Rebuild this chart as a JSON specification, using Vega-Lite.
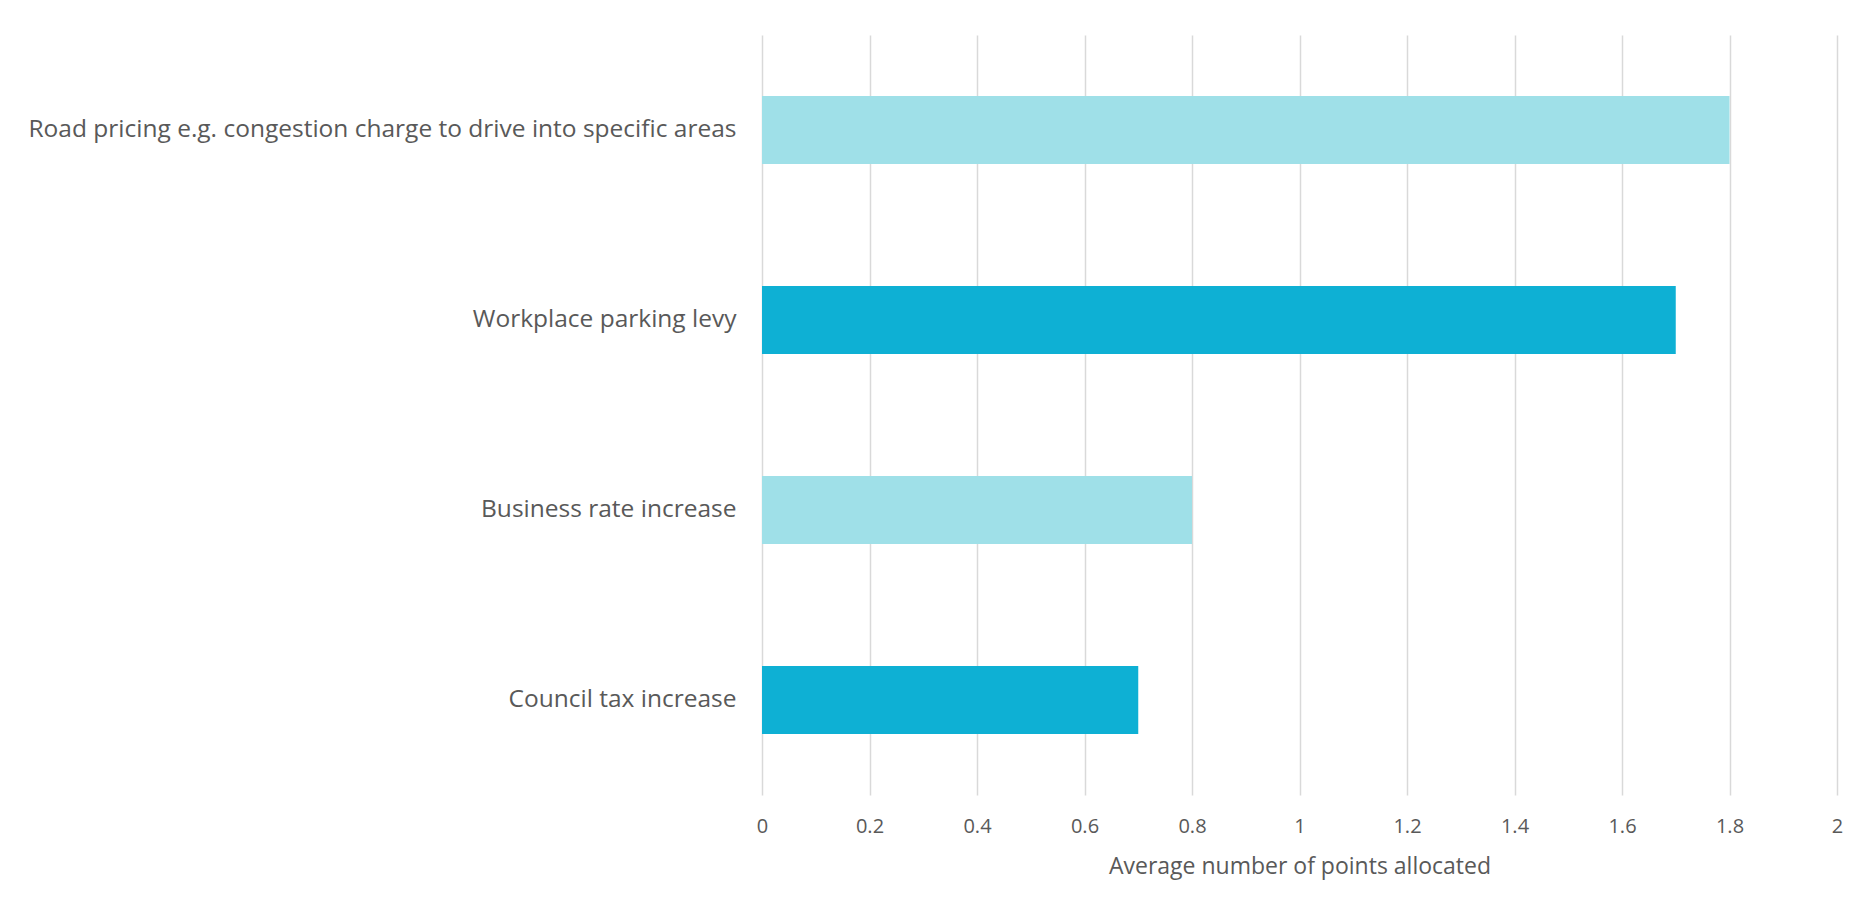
{
  "$schema": "https://vega.github.io/schema/vega-lite/v6.json",
  "autosize": {"type": "none"},
  "width": 1075,
  "height": 760,
  "padding": {"left": 762, "top": 35, "right": 33, "bottom": 113},
  "background": "white",
  "config": {
    "view": {"stroke": null},
    "font": "Open Sans"
  },
  "data": {
    "values": [
      {"measure": "Road pricing e.g. congestion charge to drive into specific areas", "points": 1.8},
      {"measure": "Workplace parking levy", "points": 1.7},
      {"measure": "Business rate increase", "points": 0.8},
      {"measure": "Council tax increase", "points": 0.7}
    ]
  },
  "mark": {"type": "bar"},
  "encoding": {
    "y": {
      "field": "measure",
      "type": "nominal",
      "sort": null,
      "scale": {"paddingInner": 0.642, "paddingOuter": 0.321},
      "axis": {
        "title": null,
        "domain": false,
        "ticks": false,
        "grid": false,
        "labelLimit": 0,
        "labelPadding": 26,
        "labelFontSize": 24.5,
        "labelColor": "#595959",
        "labelFont": "Open Sans"
      }
    },
    "x": {
      "field": "points",
      "type": "quantitative",
      "scale": {"domain": [0, 2], "nice": false},
      "axis": {
        "title": "Average number of points allocated",
        "values": [0, 0.2, 0.4, 0.6, 0.8, 1, 1.2, 1.4, 1.6, 1.8, 2],
        "labelExpr": "datum.value",
        "labelFlush": false,
        "domain": false,
        "ticks": false,
        "grid": true,
        "gridColor": "#d9d9d9",
        "gridWidth": 1.5,
        "labelPadding": 21,
        "labelFontSize": 20,
        "labelColor": "#595959",
        "labelFont": "Open Sans",
        "titleFontSize": 23,
        "titleFontWeight": "normal",
        "titleColor": "#595959",
        "titleFont": "Open Sans",
        "titlePadding": 19
      }
    },
    "color": {
      "field": "measure",
      "type": "nominal",
      "legend": null,
      "scale": {
        "domain": ["Road pricing e.g. congestion charge to drive into specific areas", "Workplace parking levy", "Business rate increase", "Council tax increase"],
        "range": ["#9fe0e8", "#0eb0d4", "#9fe0e8", "#0eb0d4"]
      }
    }
  }
}
